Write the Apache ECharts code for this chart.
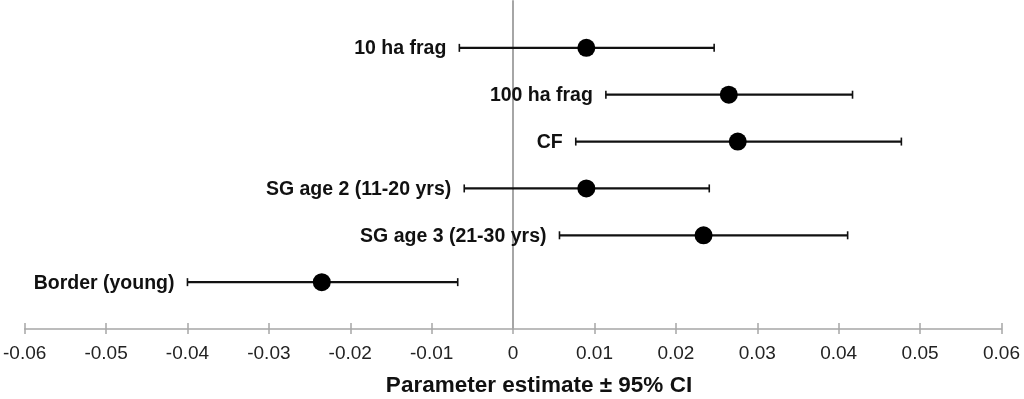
<!DOCTYPE html>
<html>
<head>
<meta charset="utf-8">
<script src="https://cdn.jsdelivr.net/npm/echarts@6/dist/echarts.min.js"></script>
<style>
  html, body { margin: 0; padding: 0; background: #fff; }
  #chart { width: 1024px; height: 399px; }
</style>
</head>
<body>
<div id="chart"></div>
<script>
// ── Data ────────────────────────────────────────────────────────────────
const categories = ['10 ha frag', '100 ha frag', 'CF', 'SG age 2 (11-20 yrs)', 'SG age 3 (21-30 yrs)', 'Border (young)'];
const estimate = [0.0090, 0.0265, 0.0276, 0.0090, 0.0234, -0.0235];
const lower    = [-0.0066, 0.0114, 0.0077, -0.0060, 0.0057, -0.0400];
const upper    = [0.0247, 0.0417, 0.0477, 0.0241, 0.0411, -0.0068];
const xTicks   = { min: -0.06, max: 0.06, interval: 0.01 };
const axisTitle = 'Parameter estimate \u00b1 95% CI';

// ── Styles ──────────────────────────────────────────────────────────────
const fontFamily = '"Liberation Sans", Arial, sans-serif';
const barColor   = '#111111';
const axisColor  = '#a6a6a6';
const labelGap   = 13;

const chart = echarts.init(document.getElementById('chart'), null, { renderer: 'canvas' });

const ciData = categories.map((c, i) => [lower[i], upper[i], i]);
const dotData = categories.map((c, i) => [estimate[i], i]);

function renderCI(params, api) {
  const lo = api.coord([api.value(0), api.value(2)]);
  const hi = api.coord([api.value(1), api.value(2)]);
  const y = lo[1];
  const cap = 4;
  return {
    type: 'group',
    children: [
      { type: 'line', shape: { x1: lo[0], y1: y, x2: hi[0], y2: y }, style: { stroke: barColor, lineWidth: 2.2 } },
      { type: 'line', shape: { x1: lo[0], y1: y - cap, x2: lo[0], y2: y + cap }, style: { stroke: barColor, lineWidth: 1.6 } },
      { type: 'line', shape: { x1: hi[0], y1: y - cap, x2: hi[0], y2: y + cap }, style: { stroke: barColor, lineWidth: 1.6 } },
      { type: 'text', x: lo[0] - labelGap, y: y + 1,
        style: { text: categories[params.dataIndex], fill: '#111', font: 'bold 19.5px ' + fontFamily,
                 textAlign: 'right', textVerticalAlign: 'middle' } }
    ]
  };
}

chart.setOption({
  animation: false,
  backgroundColor: '#ffffff',
  grid: { left: 23.5, right: 22.5, top: 1, bottom: 70 },
  title: {
    text: axisTitle, left: 534, top: 369, textAlign: 'center',
    textStyle: { fontFamily: fontFamily, fontSize: 22.5, fontWeight: 'bold', color: '#111' }
  },
  xAxis: [
    {
      type: 'value', min: xTicks.min, max: xTicks.max, interval: xTicks.interval,
      axisLine: { onZero: false, lineStyle: { color: axisColor, width: 1.5 } },
      axisTick: { show: true, length: 5, lineStyle: { color: axisColor, width: 1.5 } },
      axisLabel: { fontFamily: fontFamily, fontSize: 19, color: '#222', margin: 15,
                   formatter: v => String(Math.round(v * 100) / 100) },
      splitLine: { show: false }
    },
    {
      type: 'value', position: 'bottom', min: xTicks.min, max: xTicks.max, interval: xTicks.interval,
      axisLine: { show: false, onZero: false },
      axisTick: { show: true, inside: true, length: 6, lineStyle: { color: axisColor, width: 1.5 } },
      axisLabel: { show: false },
      splitLine: { show: false }
    }
  ],
  yAxis: {
    type: 'value', min: -1, max: 6, inverse: true,
    axisLine: { show: true, onZero: true, lineStyle: { color: axisColor, width: 2 } },
    axisTick: { show: false },
    axisLabel: { show: false },
    splitLine: { show: false }
  },
  series: [
    {
      type: 'custom', xAxisIndex: 0, renderItem: renderCI,
      encode: { x: [0, 1], y: 2 }, data: ciData, z: 2
    },
    {
      type: 'scatter', xAxisIndex: 0, data: dotData, symbol: 'circle', symbolSize: 18,
      itemStyle: { color: '#000', opacity: 1 }, z: 3
    }
  ]
});
</script>
</body>
</html>
